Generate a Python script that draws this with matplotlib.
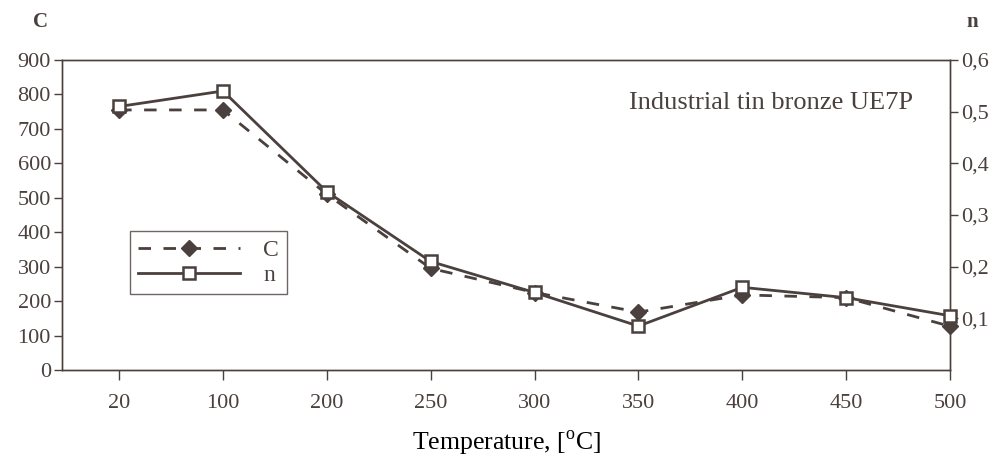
import matplotlib
matplotlib.use("Agg")
import matplotlib.pyplot as plt
from matplotlib.ticker import FuncFormatter

temps = ["20", "100", "200", "250", "300", "350", "400", "450", "500"]
C_vals = [755, 755, 510, 295, 225, 168, 218, 210, 127]
n_vals = [0.51, 0.54, 0.345, 0.21, 0.15, 0.085, 0.16, 0.14, 0.105]

col = "#4a403d"
plt.rcParams["font.family"] = ["Liberation Serif", "DejaVu Serif"]
plt.rcParams["text.color"] = col
plt.rcParams["axes.edgecolor"] = col
plt.rcParams["xtick.color"] = col
plt.rcParams["ytick.color"] = col

fig = plt.figure(figsize=(9.96, 4.59), dpi=100)
ax = fig.add_axes([62/996, 1-370/459, (950-62)/996, 310/459])
ax2 = ax.twinx()

x = list(range(len(temps)))
lC, = ax.plot(x, C_vals, color=col, lw=2.0, ls=(0, (4.5, 4.5)), marker="D",
              ms=8, mfc=col, mec=col, zorder=3, clip_on=False)
ln, = ax2.plot(x, n_vals, color=col, lw=2.0, ls="-", marker="s",
               ms=9, mfc="white", mec=col, mew=1.8, zorder=4, clip_on=False)

ax.set_xlim(-0.55, 8.0)
ax.set_ylim(0, 900)
ax.set_yticks(range(0, 901, 100))
ax2.set_ylim(0, 0.6)
ax2.set_yticks([0.1, 0.2, 0.3, 0.4, 0.5, 0.6])
ax2.yaxis.set_major_formatter(FuncFormatter(lambda v, p: f"{v:.1f}".replace(".", ",")))
ax.set_xticks(x)
ax.set_xticklabels(temps)

for a in (ax, ax2):
    a.tick_params(labelsize=16, length=6, width=1.0, direction="out", pad=2)
    for s in a.spines.values():
        s.set_linewidth(1.0)
ax.tick_params(axis="x", length=7, pad=10)

ax.set_xlabel("Temperature, [$^{\\mathregular{o}}$C]", fontsize=18.5, labelpad=12)
fig.text(40/996, 1-22/459, "C", fontsize=15, fontweight="bold", ha="center", va="center")
fig.text(972/996, 1-22/459, "n", fontsize=15, fontweight="bold", ha="center", va="center")
ax.text((913-62)/888, (370-103)/310, "Industrial tin bronze UE7P", transform=ax.transAxes,
        fontsize=19, ha="right", va="center")

leg = ax.legend([lC, ln], ["C", "n"], loc="upper left",
                bbox_to_anchor=((130-62)/888, (370-231)/310), fontsize=17,
                frameon=True, fancybox=False, handlelength=4.3, borderpad=0.35,
                labelspacing=0.15, handletextpad=1.0, borderaxespad=0)
leg.get_frame().set_edgecolor(col)
leg.get_frame().set_linewidth(1.0)

fig.savefig("out.png", dpi=100)
